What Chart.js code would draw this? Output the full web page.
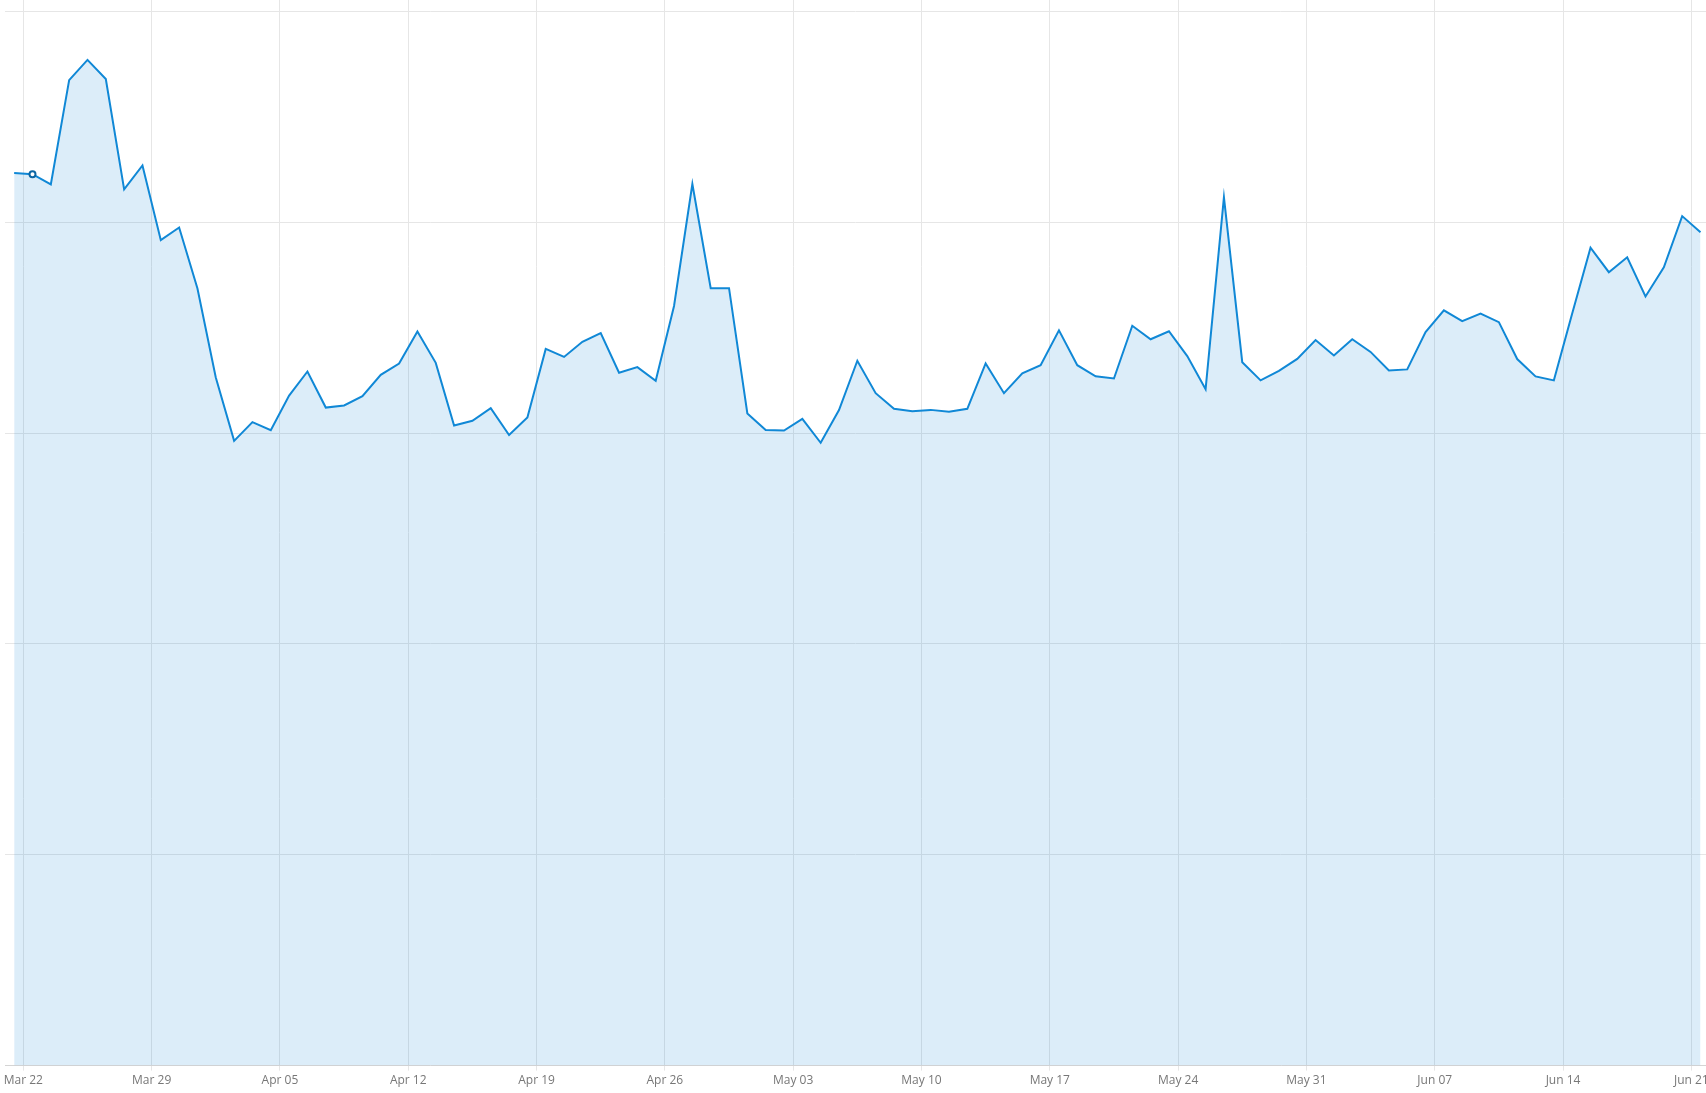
<!DOCTYPE html>
<html>
<head>
<meta charset="utf-8">
<script src="https://cdn.jsdelivr.net/npm/chart.js@4.4.1/dist/chart.umd.min.js"></script>
<style>
  html, body { margin: 0; padding: 0; background: #fff; }
  canvas { display: block; }
</style>
</head>
<body>
<canvas id="trend" width="1706" height="1093"></canvas>
<script>
// daily values, first point is the evening before Mar 22
let firstDay = -0.5;
let values = [
    423.3, 422.8, 417.9, 467.4, 477.0, 467.9, 415.6, 426.9, 391.5, 397.5,
    368.6, 326.4, 296.3, 305.2, 301.4, 317.8, 329.2, 312.1, 313.1, 317.5,
    327.6, 333.0, 348.2, 333.3, 303.6, 305.8, 311.8, 299.1, 307.4, 339.9,
    336.1, 343.3, 347.4, 328.6, 331.3, 324.8, 360.3, 418.1, 368.7, 368.7,
    309.3, 301.5, 301.2, 306.7, 295.4, 310.9, 334.3, 318.9, 311.5, 310.4,
    311.0, 310.1, 311.5, 333.0, 318.9, 328.3, 332.2, 348.7, 332.2, 326.9,
    325.9, 350.9, 344.5, 348.3, 336.5, 320.8, 411.8, 333.6, 325.0, 329.5,
    335.2, 344.1, 336.8, 344.5, 338.5, 329.7, 330.2, 347.9, 358.2, 353.1,
    356.7, 352.6, 335.1, 326.9, 325.0, 356.7, 387.9, 376.3, 383.4, 364.8,
    378.6, 402.9, 395.3
];

// weekly ticks (days after Mar 22)
let tickDays = [0, 7, 14, 21, 28, 35, 42, 49, 56, 63, 70, 77, 84, 91];
let tickLabels = [
    "Mar 22", "Mar 29", "Apr 05", "Apr 12", "Apr 19", "Apr 26", "May 03",
    "May 10", "May 17", "May 24", "May 31", "Jun 07", "Jun 14", "Jun 21"
];
let yGrid = [0, 100, 200, 300, 400, 500];

let points = values.map((v, i) => ({ x: firstDay + i, y: v }));

let ctx = document.getElementById('trend');

let Data = {
    datasets: [
        {
            label: 'Daily',
            data: points,
            borderColor: '#1088d6',
            borderWidth: 2,
            backgroundColor: 'rgba(22, 135, 215, 0.15)',
            fill: 'origin',
            tension: 0,
            pointRadius: values.map((v, i) => i === 1 ? 3 : 0),
            pointBorderWidth: 2,
            pointBorderColor: '#0d66a3',
            pointBackgroundColor: '#ffffff'
        }
    ]
};

let Options = {
    responsive: false,
    maintainAspectRatio: false,
    animation: { duration: 0 },
    events: [],
    layout: { padding: { left: 5, right: 0, top: 0, bottom: 2 } },
    plugins: {
        legend: { display: false },
        tooltip: { enabled: false }
    },
    scales: {
        x: {
            type: 'linear',
            min: -1,
            max: 91.8,
            afterBuildTicks: (scale) => {
                scale.ticks = tickDays.map(d => ({ value: d }));
            },
            afterFit: (scale) => {
                scale.paddingLeft = 0;
                scale.paddingRight = 0;
            },
            ticks: {
                autoSkip: false,
                maxRotation: 0,
                padding: 3,
                color: '#777',
                font: { family: 'Open Sans', size: 12 },
                callback: (value) => tickLabels[tickDays.indexOf(value)]
            },
            grid: { color: '#e6e6e6', tickLength: 5 },
            border: { color: '#d4d4d4' }
        },
        y: {
            min: 0,
            max: 505.4,
            afterBuildTicks: (scale) => {
                scale.ticks = yGrid.map(v => ({ value: v }));
            },
            ticks: { display: false },
            grid: { color: '#e6e6e6', drawTicks: false },
            border: { display: false }
        }
    }
};

let trendChart = new Chart(ctx, {
    type: 'line',
    data: Data,
    options: Options
});
</script>
</body>
</html>
